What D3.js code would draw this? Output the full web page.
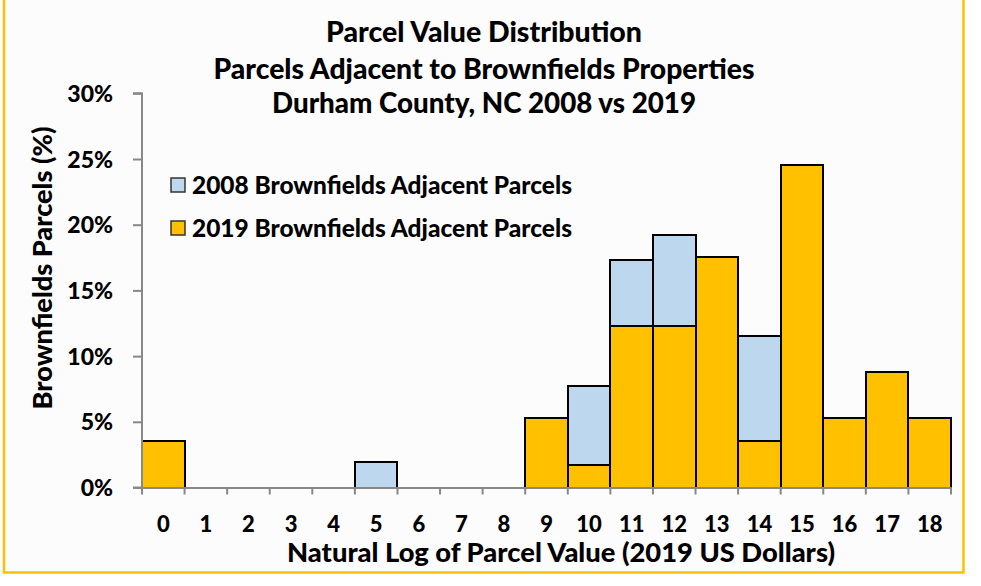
<!DOCTYPE html>
<html><head><meta charset="utf-8">
<script src="https://cdn.jsdelivr.net/npm/d3@7"></script>
<style>html,body{margin:0;padding:0;background:#fff;}svg{display:block;}</style>
</head><body>
<svg id="chart" width="981" height="586"></svg>
<script>
const categories = ["0","1","2","3","4","5","6","7","8","9","10","11","12","13","14","15","16","17","18"];
const values2008 = [0,0,0,0,0,1.92,0,0,0,0,7.69,17.31,19.23,15.38,11.54,19.23,3.85,3.85,0];
const values2019 = [3.51,0,0,0,0,0,0,0,0,5.26,1.75,12.28,12.28,17.54,3.51,24.56,5.26,8.77,5.26];
const yTicks = [0,5,10,15,20,25,30];
const seriesNames = ["2008 Brownfields Adjacent Parcels","2019 Brownfields Adjacent Parcels"];
const seriesColors = ["#BDD7EE","#FFC000"];
const titleLines = ["Parcel Value Distribution","Parcels Adjacent to Brownfields Properties","Durham County, NC 2008 vs 2019"];

const FONT = "Lato, 'Open Sans', sans-serif";
const svg = d3.select("#chart");
const pLeft = 142, pRight = 951, pTop = 93.3, pBottom = 487.5;

svg.append("rect").attr("x",4).attr("y",-5).attr("width",959.5).attr("height",577.5)
  .attr("fill","#fcfcfc").attr("stroke","#FFC000").attr("stroke-width",2.5);

const x = d3.scaleBand().domain(categories).range([pLeft,pRight]).padding(0);
const y = d3.scaleLinear().domain([0,30]).range([pBottom,pTop]);

function fit(sel, target){
  sel.each(function(){
    const fs = parseFloat(this.getAttribute("font-size"));
    const w = this.getComputedTextLength();
    if (w > 0) this.setAttribute("font-size", (fs*target/w).toFixed(2));
  });
}

// title
const titleWidths = [316, 541, 424];
const titleY = [42, 79, 113];
titleLines.forEach((t,i)=>{
  const tx = svg.append("text").attr("x",484).attr("y",titleY[i]).attr("text-anchor","middle")
    .attr("font-family",FONT).attr("font-weight","900").attr("font-size",24).attr("fill","#000").text(t);
  fit(tx, titleWidths[i]);
});

// bars
const series = [values2008, values2019];
series.forEach((vals,si)=>{
  svg.append("g").selectAll("rect").data(categories.map((c,i)=>({c,v:vals[i]})).filter(d=>d.v>0))
    .join("rect")
    .attr("x",d=>x(d.c)).attr("y",d=>y(d.v))
    .attr("width",x.bandwidth()).attr("height",d=>y(0)-y(d.v))
    .attr("fill",seriesColors[si]).attr("stroke","#000").attr("stroke-width",2)
    .attr("shape-rendering","crispEdges");
});

// y axis
const yAxis = svg.append("g").attr("transform",`translate(${pLeft},0)`)
  .call(d3.axisLeft(y).tickValues(yTicks).tickSize(9).tickFormat(d=>d+"%"));
yAxis.select(".domain").attr("stroke","#888").attr("stroke-width",2).attr("d",`M-9,${pTop}H0V${pBottom}H-9`);
yAxis.selectAll(".tick line").attr("stroke","#888").attr("stroke-width",2);
yAxis.selectAll(".tick text").attr("font-family",FONT).attr("font-weight","900").attr("font-size",23)
  .attr("fill","#000").attr("x",-29).attr("dy","0.35em");

// x axis
const xAxis = svg.append("g").attr("transform",`translate(0,${pBottom})`)
  .call(d3.axisBottom(x).tickSize(0).tickPadding(29));
xAxis.select(".domain").attr("stroke","#888").attr("stroke-width",2);
xAxis.selectAll(".tick text").attr("font-family",FONT).attr("font-weight","900").attr("font-size",22).attr("fill","#000");
const bounds = categories.map(c=>x(c)).concat([x(categories[categories.length-1])+x.bandwidth()]);
xAxis.append("g").selectAll("line").data(bounds).join("line")
  .attr("x1",d=>d).attr("x2",d=>d).attr("y1",0).attr("y2",7).attr("stroke","#888").attr("stroke-width",2);

// axis titles
const xt = svg.append("text").attr("x",(287+835)/2).attr("y",562).attr("text-anchor","middle")
  .attr("font-family",FONT).attr("font-weight","900").attr("font-size",22).attr("fill","#000")
  .text("Natural Log of Parcel Value (2019 US Dollars)");
fit(xt, 548);
const yt = svg.append("text").attr("transform","translate(52,268) rotate(-90)").attr("text-anchor","middle")
  .attr("font-family",FONT).attr("font-weight","900").attr("font-size",22).attr("fill","#000")
  .text("Brownfields Parcels (%)");
fit(yt, 283);

// legend
const legY = [185, 228];
seriesNames.forEach((n,i)=>{
  svg.append("rect").attr("x",171).attr("y",legY[i]-7).attr("width",14).attr("height",14)
    .attr("fill",seriesColors[i]).attr("stroke","#333").attr("stroke-width",1.5);
  const t = svg.append("text").attr("x",192).attr("y",legY[i]).attr("dy","0.35em")
    .attr("font-family",FONT).attr("font-weight","900").attr("font-size",20).attr("fill","#000").text(n);
  fit(t, 380);
});
</script>
</body></html>
